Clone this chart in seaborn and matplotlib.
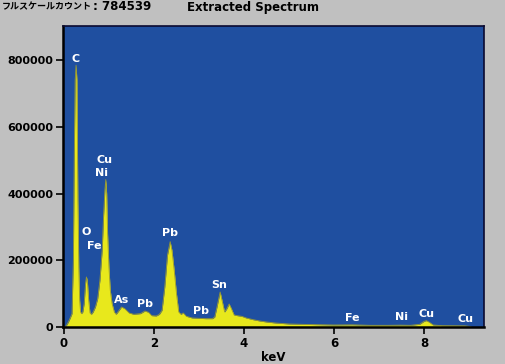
import numpy as np
import pandas as pd
import seaborn as sns
import matplotlib.pyplot as plt

# spectrum points (keV, counts)
energy = [0.00, 0.05, 0.10, 0.15, 0.18, 0.21, 0.23, 0.25, 0.27, 0.29, 0.30, 0.31, 0.32,
          0.33, 0.35, 0.37, 0.39, 0.42, 0.45, 0.48, 0.50, 0.52, 0.55, 0.58, 0.61,
          0.65, 0.70, 0.75, 0.80, 0.85, 0.88, 0.91, 0.93, 0.95, 0.97, 1.00, 1.03,
          1.07, 1.12, 1.16, 1.20, 1.28, 1.35, 1.45, 1.55, 1.70, 1.80, 1.88, 1.95,
          2.05, 2.12, 2.18, 2.24, 2.30, 2.36, 2.40, 2.45, 2.50, 2.55, 2.60, 2.65,
          2.72, 2.85, 3.00, 3.15, 3.30, 3.35, 3.40, 3.47, 3.52, 3.57, 3.62, 3.67,
          3.72, 3.78, 3.85, 3.95, 4.05, 4.20, 4.35, 4.50, 4.70, 5.00, 5.30, 5.60,
          6.00, 6.40, 6.80, 7.20, 7.47, 7.70, 7.90, 8.00, 8.05, 8.12, 8.20, 8.40,
          8.90, 9.00, 9.05]
counts = [0, 3000, 15000, 30000, 40000, 200000, 510000, 740000, 784539, 740000, 560000,
          380000, 300000, 180000, 80000, 45000, 40000, 45000, 70000, 130000, 150000,
          140000, 80000, 42000, 38000, 45000, 60000, 85000, 140000, 230000, 330000,
          410000, 442000, 400000, 280000, 180000, 110000, 70000, 45000, 38000, 45000,
          60000, 55000, 42000, 38000, 40000, 48000, 44000, 34000, 33000, 38000, 50000,
          120000, 215000, 256000, 230000, 170000, 100000, 45000, 38000, 42000, 32000,
          27000, 26000, 25000, 25000, 30000, 60000, 105000, 75000, 45000, 55000, 69000,
          55000, 36000, 34000, 32000, 27000, 22000, 18000, 15000, 12000, 9000, 8000,
          7000, 6000, 6500, 5000, 5000, 5500, 5000, 8000, 17000, 19000, 14000, 6000,
          4000, 3500, 2000, 0]

# peak labels
peak_names = ["C", "Cu", "Ni", "O", "Fe", "As", "Pb", "Pb", "Pb", "Sn", "Fe", "Ni", "Cu", "Cu"]
peak_x = [0.26, 0.91, 0.84, 0.49, 0.67, 1.28, 1.81, 2.36, 3.04, 3.44, 6.40, 7.49, 8.06, 8.91]
peak_y = [804000, 500000, 461000, 284000, 243000, 81000, 69000, 281000, 49000, 126000,
          27000, 30000, 39000, 24000]

xticks = [0, 2, 4, 6, 8]
yticks = [0, 200000, 400000, 600000, 800000]

gray = "#C0C0C0"
blue = "#1F4FA0"
yellow = "#E8E81C"

sns.set_theme(style="ticks", rc={"figure.facecolor": gray, "axes.facecolor": blue,
                                 "text.color": "black", "axes.labelcolor": "black",
                                 "xtick.color": "black", "ytick.color": "black"})
plt.rcParams["font.family"] = ["DejaVu Sans", "Noto Sans CJK JP"]

df = pd.DataFrame({"keV": energy, "count": counts})

fig = plt.figure(figsize=(5.05, 3.64), dpi=100)
ax = fig.add_axes([63 / 505, 37 / 364, 421 / 505, 301 / 364])
ax.fill_between(df["keV"], 0, df["count"], color=yellow, lw=0)
sns.lineplot(data=df, x="keV", y="count", ax=ax, color="#9A9A30", lw=0.6)

ax.set_xlim(-0.02, 9.33)
ax.set_ylim(0, 902000)
ax.set_xticks(xticks)
ax.set_yticks(yticks)
ax.set_xticklabels([str(t) for t in xticks], fontsize=8.5, fontweight="bold")
ax.set_yticklabels([str(t) for t in yticks], fontsize=8, fontweight="bold")
ax.tick_params(axis="y", length=5, width=1.2, color="black", pad=2)
ax.tick_params(axis="x", length=5, width=1.2, color="black", pad=2)
ax.set_xlabel("keV", fontsize=8.5, fontweight="bold", labelpad=1)
ax.set_ylabel("")

for s in ["top", "right"]:
    ax.spines[s].set_color("#0A0A30")
    ax.spines[s].set_linewidth(1.2)
for s in ["left", "bottom"]:
    ax.spines[s].set_color("black")
    ax.spines[s].set_linewidth(1.8)

for name, x, y in zip(peak_names, peak_x, peak_y):
    ax.text(x, y, name, color="white", fontsize=8, fontweight="bold",
            ha="center", va="center")

fig.text(2 / 505, 1 - 7 / 364, "フルスケールカウント", fontsize=6.5, fontweight="bold",
         family=["Noto Sans CJK JP", "DejaVu Sans"], va="center", ha="left")
fig.text(93 / 505, 1 - 7 / 364, ": 784539", fontsize=8.5, fontweight="bold",
         va="center", ha="left")
fig.text(187 / 505, 1 - 7 / 364, "Extracted Spectrum", fontsize=8.5, fontweight="bold",
         va="center", ha="left")

fig.savefig("out.png", dpi=100, facecolor=gray)
